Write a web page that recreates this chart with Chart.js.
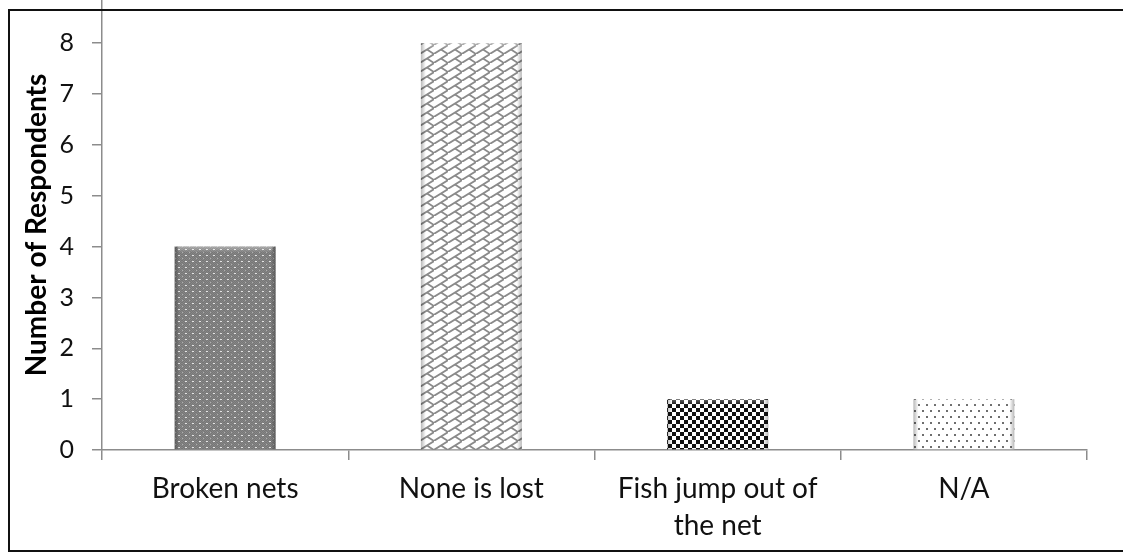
<!DOCTYPE html>
<html>
<head>
<meta charset="utf-8">
<script src="https://cdn.jsdelivr.net/npm/chart.js@4.4.1/dist/chart.umd.min.js"></script>
<style>
html,body{margin:0;padding:0;background:#fff;}
#wrap{position:relative;width:1123px;height:554px;}
</style>
</head>
<body>
<div id="wrap"><canvas id="c" width="1123" height="554"></canvas></div>
<script>
const categories = ["Broken nets", "None is lost", ["Fish jump out of", "the net"], "N/A"];
const respondents = [4, 8, 1, 1];
const yTickValues = [0, 1, 2, 3, 4, 5, 6, 7, 8];
const yTitle = "Number of Respondents";

const canvas = document.getElementById('c');
const ctx = canvas.getContext('2d');

function makePattern(w, h, draw) {
  const c = document.createElement('canvas');
  c.width = w; c.height = h;
  const g = c.getContext('2d');
  draw(g, w, h);
  return ctx.createPattern(c, 'repeat');
}

const patDots = makePattern(7, 6, (g, w, h) => {
  g.fillStyle = '#868686'; g.fillRect(0, 0, w, h);
  g.fillStyle = '#777777';
  for (let y = 0; y < h; y++) for (let x = 0; x < w; x++) if ((x + y) % 2 === 0) g.fillRect(x, y, 1, 1);
  g.fillStyle = '#e4e4e4'; g.fillRect(3, 3, 2, 1);
  g.fillStyle = '#b0b0b0'; g.fillRect(0, 0, 1, 1);
});
const patBrick = makePattern(14, 9, (g, w, h) => {
  g.fillStyle = '#ffffff'; g.fillRect(0, 0, w, h);
  g.strokeStyle = '#8a8a8a'; g.lineWidth = 1.8;
  g.beginPath();
  g.moveTo(-1, h + 0.5); g.lineTo(w + 1, -0.5);
  g.moveTo(w / 2, h / 2); g.lineTo(w, h);
  g.moveTo(0, 0); g.lineTo(-w / 2, -h / 2);
  g.stroke();
});
const patChecker = makePattern(8, 8, (g, w, h) => {
  g.fillStyle = '#ffffff'; g.fillRect(0, 0, w, h);
  g.fillStyle = '#111111';
  g.fillRect(0, 0, 4, 4); g.fillRect(4, 4, 4, 4);
});
const patSparse = makePattern(8, 12, (g, w, h) => {
  g.fillStyle = '#ffffff'; g.fillRect(0, 0, w, h);
  g.fillStyle = '#6e6e6e';
  g.fillRect(2, 2, 2, 2); g.fillRect(6, 8, 2, 2);
});

const framePlugin = {
  id: 'frame',
  afterDraw(chart) {
    const g = chart.ctx;
    g.save();
    g.strokeStyle = '#111';
    g.lineWidth = 2;
    g.beginPath();
    g.moveTo(1124, 10); g.lineTo(9, 10); g.lineTo(9, 551); g.lineTo(1124, 551);
    g.stroke();
    g.restore();
  }
};

const bevelPlugin = {
  id: 'bevel',
  afterDatasetsDraw(chart) {
    const g = chart.ctx;
    const meta = chart.getDatasetMeta(0);
    g.save();
    meta.data.forEach(bar => {
      const p = bar.getProps(['x', 'y', 'base', 'width'], true);
      const l = p.x - p.width / 2, r = p.x + p.width / 2;
      const t = p.y, b = p.base;
      let gr = g.createLinearGradient(l, 0, l + 5, 0);
      gr.addColorStop(0, 'rgba(0,0,0,0.28)'); gr.addColorStop(1, 'rgba(0,0,0,0)');
      g.fillStyle = gr; g.fillRect(l, t, 5, b - t);
      gr = g.createLinearGradient(r, 0, r - 5, 0);
      gr.addColorStop(0, 'rgba(0,0,0,0.28)'); gr.addColorStop(1, 'rgba(0,0,0,0)');
      g.fillStyle = gr; g.fillRect(r - 5, t, 5, b - t);
      gr = g.createLinearGradient(0, t, 0, t + 6);
      gr.addColorStop(0, 'rgba(255,255,255,0.35)'); gr.addColorStop(1, 'rgba(255,255,255,0)');
      g.fillStyle = gr; g.fillRect(l + 3, t, p.width - 6, 6);
    });
    g.restore();
  }
};

const FONT = 'Lato, "Open Sans", sans-serif';

new Chart(ctx, {
  type: 'bar',
  data: {
    labels: categories,
    datasets: [{
      data: respondents,
      backgroundColor: [patDots, patBrick, patChecker, patSparse],
      borderWidth: 0,
      categoryPercentage: 1,
      barPercentage: 0.41
    }]
  },
  options: {
    responsive: false,
    animation: false,
    devicePixelRatio: 1,
    layout: { padding: { top: 0, right: 36, bottom: 0, left: 0 } },
    plugins: { legend: { display: false }, tooltip: { enabled: false } },
    scales: {
      x: {
        afterFit(s) { s.height = 104; s.paddingLeft = 0; s.paddingRight = 0; },
        border: { display: true, color: '#8c8c8c', width: 1.5 },
        grid: { drawOnChartArea: false, drawTicks: true, tickLength: 10, color: '#8c8c8c', lineWidth: 1.5, offset: true },
        ticks: { color: '#111', padding: 10, maxRotation: 0, autoSkip: false,
                 font: { family: FONT, size: 28, lineHeight: 1.33 } }
      },
      y: {
        min: 0,
        max: 8.85,
        afterFit(s) { s.width = 102; s.paddingTop = 0; s.paddingBottom = 0; },
        afterBuildTicks(s) { s.ticks = yTickValues.map(v => ({ value: v })); },
        border: { display: true, color: '#8c8c8c', width: 1.5 },
        grid: { drawOnChartArea: false, drawTicks: true, tickLength: 10, color: '#8c8c8c', lineWidth: 1.5 },
        ticks: { color: '#111', padding: 18, font: { family: FONT, size: 25 } },
        title: { display: true, text: yTitle, color: '#000', padding: { top: 20, bottom: 0 },
                 font: { family: FONT, size: 28, weight: 'bold', lineHeight: 1.2 } }
      }
    }
  },
  plugins: [bevelPlugin, framePlugin]
});
</script>
</body>
</html>
